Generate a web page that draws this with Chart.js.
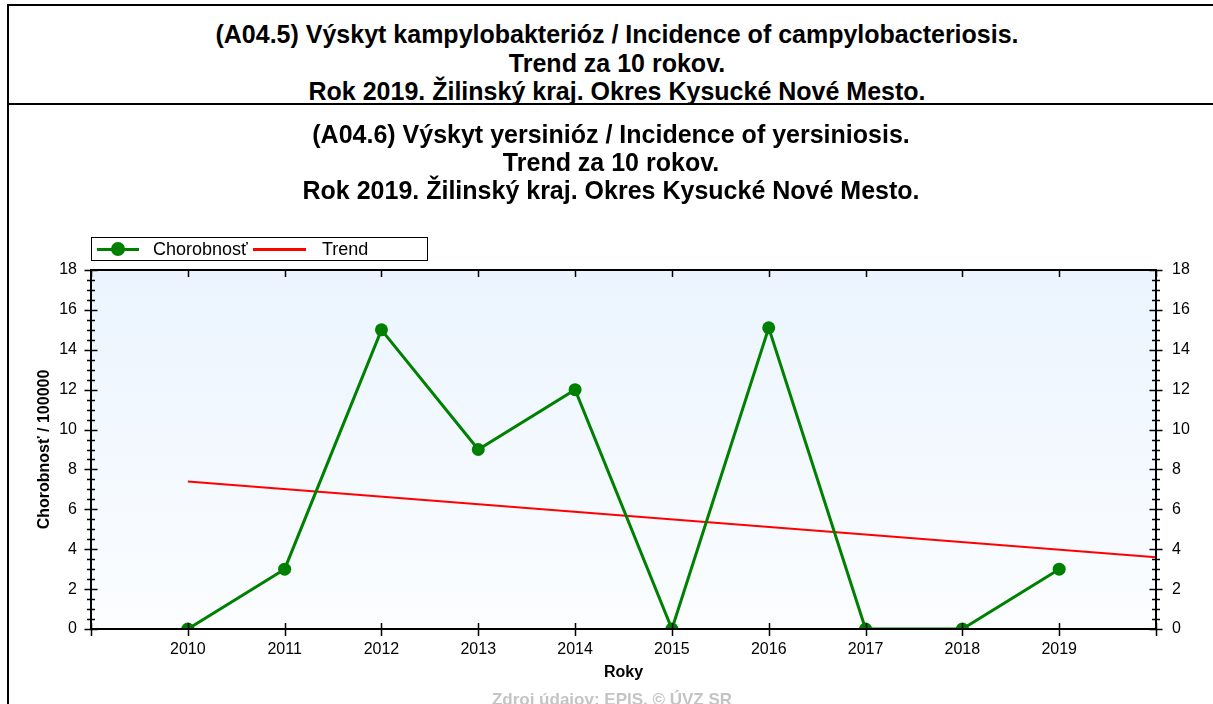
<!DOCTYPE html>
<html>
<head>
<meta charset="utf-8">
<script src="https://cdn.jsdelivr.net/npm/chart.js@4"></script>
<style>
    body { margin: 0; background: #fff; font-family: "Liberation Sans", Arial, sans-serif; }
    #frame { position: absolute; left: 7px; top: 4px; width: 1300px; height: 800px;
             border-left: 2px solid #000; border-top: 2px solid #000; }
    #topTitle { position: absolute; left: 9px; top: 6px; width: 1210px; height: 99px;
                border-bottom: 2px solid #000; text-align: center; font-weight: bold;
                font-size: 25px; line-height: 28.5px; padding: 14px 0 0 6px; box-sizing: border-box; }
    #chartWrap { position: absolute; left: 9px; top: 105px; width: 1204px; height: 599px; }
    #legend { position: absolute; left: 91px; top: 237px; width: 335px; height: 22px;
              border: 1px solid #000; font-size: 18px; color: #000; }
    #legend span { position: absolute; top: 0px; line-height: 22px; }
    .mark { position: absolute; height: 3px; top: 10px; }
    .dot { position: absolute; width: 14px; height: 14px; border-radius: 50%; top: 4px; background: #008000; }
    #source { position: absolute; left: 9px; width: 1206px; top: 690px; text-align: center;
              font-weight: bold; font-size: 17px; color: #c4c4c4; }
</style>
</head>
<body>
<div id="frame"></div>
<div id="topTitle">(A04.5) Výskyt kampylobakterióz / Incidence of campylobacteriosis.<br>Trend za 10 rokov.<br>Rok 2019. Žilinský kraj. Okres Kysucké Nové Mesto.</div>
<div id="chartWrap"><canvas id="chart" width="1204" height="599"></canvas></div>
<div id="legend">
    <div class="mark" style="left:5px;width:42px;background:#008000;"></div>
    <div class="dot" style="left:19px;"></div>
    <span style="left:61px;">Chorobnosť</span>
    <div class="mark" style="left:161px;width:53px;background:#ff0000;"></div>
    <span style="left:230px;">Trend</span>
</div>
<div id="source">Zdroj údajov: EPIS. © ÚVZ SR</div>

<script>
const years = [2010, 2011, 2012, 2013, 2014, 2015, 2016, 2017, 2018, 2019];
const incidence = [0, 3, 15, 9, 12, 0, 15.1, 0, 0, 3];
const trendYears = [2010, 2020];
const trendValues = [7.4, 3.6];
const titleLines = [
    "(A04.6) Výskyt yersinióz / Incidence of yersiniosis.",
    "Trend za 10 rokov.",
    "Rok 2019. Žilinský kraj. Okres Kysucké Nové Mesto.",
];

const fontFamily = '"Liberation Sans", Arial, sans-serif';

// plot background and tick marks crossing the frame
const framePlugin = {
    id: "framePlugin",
    beforeDraw(chart) {
        const { ctx, chartArea: a } = chart;
        const g = ctx.createLinearGradient(0, a.top, 0, a.bottom);
        g.addColorStop(0, "#ebf4fe");
        g.addColorStop(1, "#fbfdff");
        ctx.save();
        ctx.fillStyle = g;
        ctx.fillRect(a.left, a.top, a.right - a.left, a.bottom - a.top);
        ctx.restore();
    },
    afterDraw(chart) {
        const { ctx, chartArea: a, scales } = chart;
        const x = scales.x;
        const y = scales.y;
        ctx.save();
        ctx.strokeStyle = "#000";
        ctx.lineWidth = 1.5;
        ctx.beginPath();
        for (let v = x.min; v <= x.max; v++) {
            const px = Math.round(x.getPixelForValue(v)) + 0.5;
            ctx.moveTo(px, a.bottom - 6);
            ctx.lineTo(px, a.bottom + 7);
            ctx.moveTo(px, a.top);
            ctx.lineTo(px, a.top + 7);
        }
        for (let v = y.min; v <= y.max; v += 0.5) {
            const py = Math.round(y.getPixelForValue(v)) + 0.5;
            const len = v % 2 === 0 ? 6.5 : 4;
            ctx.moveTo(a.left - len, py);
            ctx.lineTo(a.left + len, py);
            ctx.moveTo(a.right - len, py);
            ctx.lineTo(a.right + len, py);
        }
        ctx.stroke();
        ctx.lineWidth = 2;
        ctx.strokeRect(a.left, a.top, a.right - a.left, a.bottom - a.top);
        ctx.restore();
    },
};

const ctx = document.getElementById("chart").getContext("2d");
new Chart(ctx, {
    type: "line",
    data: {
        datasets: [
            {
                label: "Chorobnosť",
                data: years.map((yr, i) => ({ x: yr, y: incidence[i] })),
                borderColor: "#008000",
                backgroundColor: "#008000",
                borderWidth: 3,
                pointRadius: 6.5,
                pointBorderWidth: 0,
                pointBackgroundColor: "#008000",
                tension: 0,
            },
            {
                label: "Trend",
                data: trendYears.map((yr, i) => ({ x: yr, y: trendValues[i] })),
                borderColor: "#ff0000",
                borderWidth: 2,
                pointRadius: 0,
                tension: 0,
            },
        ],
    },
    options: {
        responsive: false,
        animation: false,
        devicePixelRatio: 1,
        layout: { padding: 0 },
        plugins: {
            legend: { display: false },
            tooltip: { enabled: false },
            title: {
                display: true,
                text: titleLines,
                color: "#000",
                font: { family: fontFamily, size: 25, weight: "bold", lineHeight: 28 / 25 },
                padding: { top: 17, bottom: 64 },
            },
        },
        scales: {
            x: {
                type: "linear",
                min: 2009,
                max: 2020,
                grid: { display: false },
                border: { display: false },
                ticks: {
                    stepSize: 1,
                    autoSkip: false,
                    maxRotation: 0,
                    padding: 3,
                    color: "#000",
                    font: { family: fontFamily, size: 16 },
                    callback: (v) => (v >= years[0] && v <= years[years.length - 1] ? String(v) : ""),
                },
                title: {
                    display: true,
                    text: "Roky",
                    color: "#000",
                    font: { family: fontFamily, size: 16, weight: "bold" },
                    padding: { top: 0, bottom: 22 },
                },
                afterFit(scale) { scale.height = 75; },
            },
            y: {
                position: "left",
                min: 0,
                max: 18,
                grid: { display: false },
                border: { display: false },
                ticks: {
                    stepSize: 2,
                    padding: 6,
                    color: "#000",
                    font: { family: fontFamily, size: 16 },
                },
                title: {
                    display: true,
                    text: "Chorobnosť / 100000",
                    color: "#000",
                    font: { family: fontFamily, size: 16, weight: "bold" },
                    padding: { top: 26, bottom: 0 },
                },
                afterFit(scale) { scale.width = 82; },
            },
            y2: {
                position: "right",
                min: 0,
                max: 18,
                grid: { display: false },
                border: { display: false },
                ticks: {
                    stepSize: 2,
                    padding: 8,
                    color: "#000",
                    font: { family: fontFamily, size: 16 },
                },
                afterFit(scale) { scale.width = 57; },
            },
        },
    },
    plugins: [framePlugin],
});
</script>
</body>
</html>
